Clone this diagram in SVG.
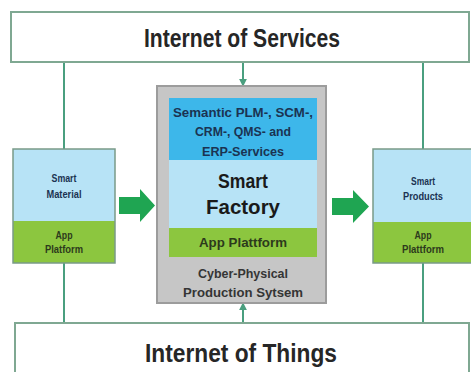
<svg xmlns="http://www.w3.org/2000/svg" width="471" height="372" viewBox="0 0 471 372">
<defs>
<style>
.frame{fill:#ffffff;stroke:#7fa892;stroke-width:2}
.big{font-family:"Liberation Sans",Arial,sans-serif;font-weight:bold;fill:#262626;font-size:25px;text-anchor:middle}
.t{font-family:"Liberation Sans",Arial,sans-serif;font-weight:bold;text-anchor:middle}
.navy{fill:#1b3352}
.dg{fill:#2c3a1c}
.gr{fill:#353535}
.conn{stroke:#4a9f7f;stroke-width:2;fill:none}
.blue{fill:#b7e3f6}
.green{fill:#8cc63f}
.mid{fill:#3db7ea}
.arrow{fill:#1fa552}
</style>
<marker id="ah" viewBox="0 0 10 10" refX="9" refY="5" markerWidth="4" markerHeight="4" orient="auto">
<path d="M0,0 L10,5 L0,10 z" fill="#4a9f7f"/>
</marker>
</defs>

<g id="connectors">
<line class="conn" x1="64" y1="62" x2="64" y2="149"/>
<line class="conn" x1="243" y1="62" x2="243" y2="86" marker-end="url(#ah)"/>
<line class="conn" x1="423" y1="62" x2="423" y2="149"/>
<line class="conn" x1="64" y1="263" x2="64" y2="323"/>
<line class="conn" x1="243" y1="323" x2="243" y2="303" marker-end="url(#ah)"/>
<line class="conn" x1="423" y1="263" x2="423" y2="323"/>
<path class="arrow" d="M119,197 L140,197 L140,189 L155,205.5 L140,222 L140,214 L119,214 z"/>
<path class="arrow" d="M332,198 L353,198 L353,190 L369,206.5 L353,223 L353,215 L332,215 z"/>
</g>

<g id="internet-of-services">
<rect class="frame" x="11" y="12" width="458" height="50"/>
<text class="big" x="242" y="47" textLength="196" lengthAdjust="spacingAndGlyphs">Internet of Services</text>
</g>

<g id="internet-of-things">
<rect class="frame" x="15" y="323" width="454" height="60"/>
<text class="big" x="241" y="362" textLength="192" lengthAdjust="spacingAndGlyphs">Internet of Things</text>
</g>

<g id="smart-material">
<rect class="blue" x="13" y="149" width="102" height="72"/>
<rect class="green" x="13" y="221" width="102" height="42"/>
<rect x="13" y="149" width="102" height="114" fill="none" stroke="#7a9a88" stroke-width="1.5"/>
<text class="t navy" x="64" y="182" font-size="10" textLength="25" lengthAdjust="spacingAndGlyphs">Smart</text>
<text class="t navy" x="64" y="198" font-size="10" textLength="35" lengthAdjust="spacingAndGlyphs">Material</text>
<text class="t dg" x="64" y="239" font-size="10" textLength="17" lengthAdjust="spacingAndGlyphs">App</text>
<text class="t dg" x="64" y="253" font-size="10" textLength="38" lengthAdjust="spacingAndGlyphs">Platform</text>
</g>

<g id="smart-factory">
<rect x="157" y="86" width="169" height="217" fill="#c6c6c6" stroke="#9c9c9c" stroke-width="2"/>
<rect class="mid" x="169" y="98" width="148" height="62"/>
<rect class="blue" x="169" y="160" width="148" height="68"/>
<rect class="green" x="169" y="228" width="148" height="29"/>
<text class="t navy" x="243" y="117" font-size="12" textLength="140" lengthAdjust="spacingAndGlyphs">Semantic PLM-, SCM-,</text>
<text class="t navy" x="243" y="136" font-size="12" textLength="96" lengthAdjust="spacingAndGlyphs">CRM-, QMS- and</text>
<text class="t navy" x="243" y="156" font-size="12" textLength="82" lengthAdjust="spacingAndGlyphs">ERP-Services</text>
<text class="t" x="243" y="188" font-size="21" fill="#1a1a1a" textLength="50" lengthAdjust="spacingAndGlyphs">Smart</text>
<text class="t" x="243" y="214" font-size="21" fill="#1a1a1a" textLength="74" lengthAdjust="spacingAndGlyphs">Factory</text>
<text class="t dg" x="243" y="247" font-size="13" textLength="88" lengthAdjust="spacingAndGlyphs">App Plattform</text>
<text class="t gr" x="243" y="278" font-size="12.5" textLength="90" lengthAdjust="spacingAndGlyphs">Cyber-Physical</text>
<text class="t gr" x="243" y="297" font-size="12.5" textLength="120" lengthAdjust="spacingAndGlyphs">Production Sytsem</text>
</g>

<g id="smart-products">
<rect class="blue" x="373" y="149" width="102" height="73"/>
<rect class="green" x="373" y="222" width="102" height="41"/>
<rect x="373" y="149" width="102" height="114" fill="none" stroke="#7a9a88" stroke-width="1.5"/>
<text class="t navy" x="423" y="185" font-size="10" textLength="24" lengthAdjust="spacingAndGlyphs">Smart</text>
<text class="t navy" x="423" y="200" font-size="10" textLength="40" lengthAdjust="spacingAndGlyphs">Products</text>
<text class="t dg" x="423" y="239" font-size="10" textLength="17" lengthAdjust="spacingAndGlyphs">App</text>
<text class="t dg" x="423" y="253" font-size="10" textLength="42" lengthAdjust="spacingAndGlyphs">Plattform</text>
</g>
</svg>
